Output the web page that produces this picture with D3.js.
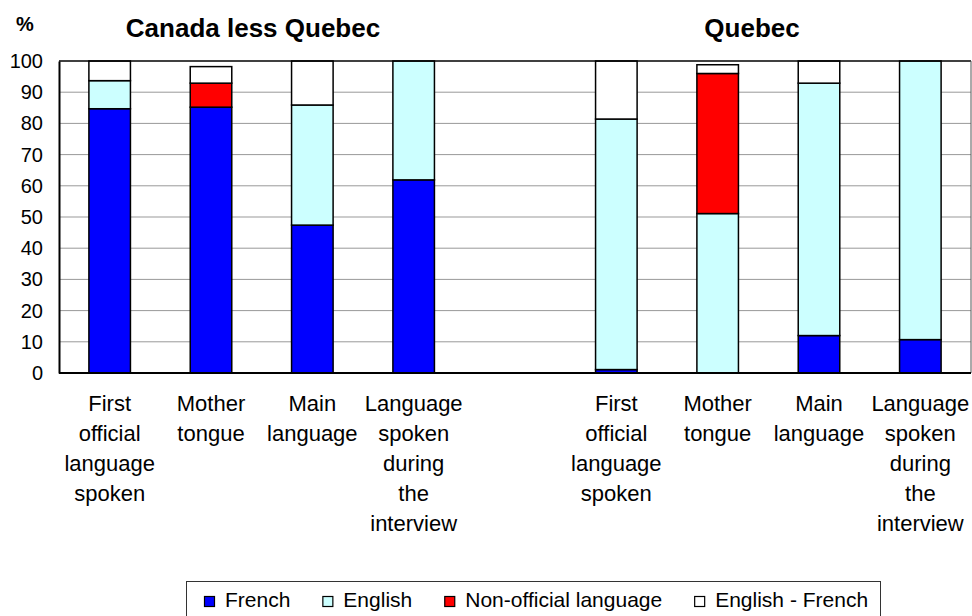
<!DOCTYPE html>
<html>
<head>
<meta charset="utf-8">
<script src="https://cdn.jsdelivr.net/npm/d3@7/dist/d3.min.js"></script>
<style>
  html, body { margin: 0; padding: 0; background: #fff; }
  svg { display: block; font-family: "Liberation Sans", Arial, sans-serif; }
</style>
</head>
<body>
<svg id="chart" width="972" height="616"></svg>
<script>
(function () {
  "use strict";

  // two panels, four measures each; values in % (first four = Canada less Quebec, last four = Quebec)
  const regions = ["Canada less Quebec", "Quebec"];
  const categories = [
    ["First", "official", "language", "spoken"],
    ["Mother", "tongue"],
    ["Main", "language"],
    ["Language", "spoken", "during", "the", "interview"],
  ];
  const seriesNames = ["French", "English", "Non-official language", "English - French"];
  const seriesColors = ["#0000ff", "#ccffff", "#ff0000", "#ffffff"];

  const french = [84.7, 85.2, 47.4, 61.9, 1.1, 0, 12.0, 10.7];
  const english = [9.0, 0, 38.5, 38.1, 80.3, 51.1, 80.9, 89.3];
  const nonOfficial = [0, 7.7, 0, 0, 0, 44.9, 0, 0];
  const englishFrench = [6.3, 5.3, 14.1, 0, 18.6, 2.8, 7.1, 0];

  const yTicks = [0, 10, 20, 30, 40, 50, 60, 70, 80, 90, 100];

  const plot = { left: 59, right: 971, top: 61, bottom: 373 };
  const svg = d3.select("#chart");

  // slot keys: 4 bars, an empty slot, 4 bars
  const slots = [];
  regions.forEach((r, ri) => {
    categories.forEach((c, ci) => slots.push(ri + "-" + ci));
    if (ri === 0) slots.push("gap");
  });
  const barSlots = slots.filter((s) => s !== "gap");

  const x = d3.scaleBand().domain(slots).range([plot.left, plot.right]).padding(0);
  const barW = x.bandwidth() * 0.41;
  const y = d3.scaleLinear().domain([0, 100]).range([plot.bottom, plot.top]);

  const values = [french, english, nonOfficial, englishFrench];
  const rows = barSlots.map((s, i) => {
    const row = { slot: s };
    seriesNames.forEach((n, k) => (row[n] = values[k][i]));
    return row;
  });
  const stacked = d3.stack().keys(seriesNames)(rows);

  // plot background + gridlines
  svg.append("rect")
    .attr("x", plot.left).attr("y", plot.top)
    .attr("width", plot.right - plot.left).attr("height", plot.bottom - plot.top)
    .attr("fill", "#fff");

  svg.append("g")
    .selectAll("line")
    .data(yTicks.filter((t) => t > 0 && t < 100))
    .enter()
    .append("line")
    .attr("x1", plot.left).attr("x2", plot.right)
    .attr("y1", (d) => y(d)).attr("y2", (d) => y(d))
    .attr("stroke", "#999").attr("stroke-width", 1);

  // bars
  svg.append("g")
    .selectAll("g")
    .data(stacked)
    .enter()
    .append("g")
    .attr("fill", (d, i) => seriesColors[i])
    .selectAll("rect")
    .data((d) => d.filter((p) => p[1] - p[0] > 0))
    .enter()
    .append("rect")
    .attr("x", (p) => x(p.data.slot) + (x.bandwidth() - barW) / 2)
    .attr("y", (p) => y(p[1]))
    .attr("width", barW)
    .attr("height", (p) => y(p[0]) - y(p[1]))
    .attr("stroke", "#000")
    .attr("stroke-width", 1.5);

  // frame
  svg.append("line")
    .attr("x1", plot.left).attr("x2", plot.right)
    .attr("y1", plot.top).attr("y2", plot.top)
    .attr("stroke", "#000").attr("stroke-width", 1.5);
  svg.append("line")
    .attr("x1", plot.right).attr("x2", plot.right)
    .attr("y1", plot.top).attr("y2", plot.bottom)
    .attr("stroke", "#555").attr("stroke-width", 1);
  svg.append("line")
    .attr("x1", plot.left).attr("x2", plot.right)
    .attr("y1", plot.bottom).attr("y2", plot.bottom)
    .attr("stroke", "#000").attr("stroke-width", 2);

  const yAxis = svg.append("g")
    .attr("transform", `translate(${plot.left},0)`)
    .call(d3.axisLeft(y).tickValues(yTicks).tickSize(0).tickPadding(16));
  yAxis.select(".domain").attr("stroke", "#000").attr("stroke-width", 2);
  yAxis.selectAll("text")
    .attr("font-size", 20)
    .attr("fill", "#000")
    .attr("font-family", "Liberation Sans, Arial, sans-serif");

  // category labels, multi-line
  const catLabels = svg.append("g")
    .selectAll("text")
    .data(barSlots)
    .enter()
    .append("text")
    .attr("text-anchor", "middle")
    .attr("font-size", 22)
    .attr("fill", "#000");
  catLabels.each(function (s) {
    const ci = +s.split("-")[1];
    const cx = x(s) + x.bandwidth() / 2;
    d3.select(this)
      .selectAll("tspan")
      .data(categories[ci])
      .enter()
      .append("tspan")
      .attr("x", cx)
      .attr("y", (d, i) => 411 + i * 30)
      .text((d) => d);
  });

  // titles
  svg.append("text")
    .attr("x", 25).attr("y", 31)
    .attr("text-anchor", "middle")
    .attr("font-size", 20).attr("font-weight", "bold")
    .text("%");
  const titleX = [253, 752];
  svg.append("g")
    .selectAll("text")
    .data(regions)
    .enter()
    .append("text")
    .attr("x", (d, i) => titleX[i])
    .attr("y", 37)
    .attr("text-anchor", "middle")
    .attr("font-size", 26)
    .attr("font-weight", "bold")
    .text((d) => d);

  // legend
  const legend = svg.append("g");
  legend.append("rect")
    .attr("x", 186.5).attr("y", 581.5)
    .attr("width", 694).attr("height", 40)
    .attr("fill", "#fff").attr("stroke", "#333").attr("stroke-width", 1);
  let lx = 204;
  seriesNames.forEach((n, i) => {
    legend.append("rect")
      .attr("x", lx + 0.5).attr("y", 596.5)
      .attr("width", 10).attr("height", 10)
      .attr("fill", seriesColors[i]).attr("stroke", "#000").attr("stroke-width", 1.2);
    const t = legend.append("text")
      .attr("x", lx + 21).attr("y", 607)
      .attr("font-size", 21)
      .attr("fill", "#000")
      .text(n);
    lx += 21 + t.node().getComputedTextLength() + 32;
  });
})();
</script>
</body>
</html>
